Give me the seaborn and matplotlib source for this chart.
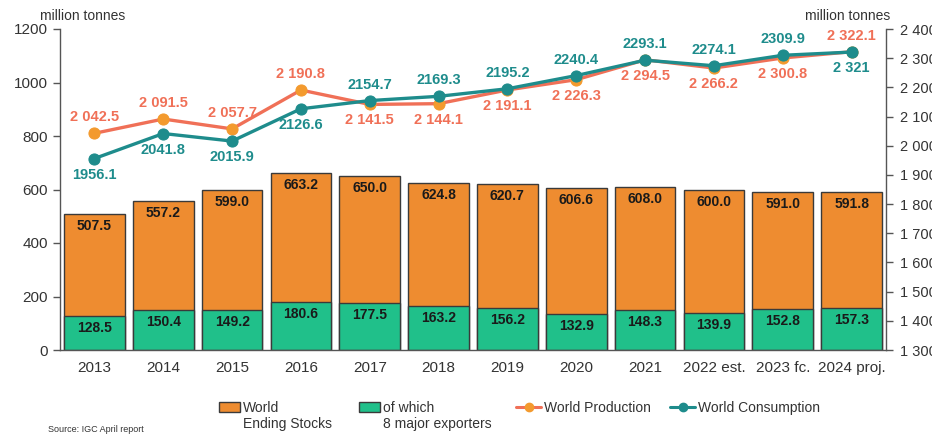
import matplotlib
matplotlib.use("Agg")
import matplotlib.pyplot as plt
import seaborn as sns
import numpy as np
import pandas as pd
from matplotlib.patches import Patch
from matplotlib.lines import Line2D
from matplotlib.ticker import FuncFormatter

years = ["2013", "2014", "2015", "2016", "2017", "2018", "2019", "2020", "2021",
         "2022 est.", "2023 fc.", "2024 proj."]
ending_stocks = [507.5, 557.2, 599.0, 663.2, 650.0, 624.8, 620.7, 606.6, 608.0, 600.0, 591.0, 591.8]
major_exporters = [128.5, 150.4, 149.2, 180.6, 177.5, 163.2, 156.2, 132.9, 148.3, 139.9, 152.8, 157.3]
production = [2042.5, 2091.5, 2057.7, 2190.8, 2141.5, 2144.1, 2191.1, 2226.3, 2294.5, 2266.2, 2300.8, 2322.1]
consumption = [1956.1, 2041.8, 2015.9, 2126.6, 2154.7, 2169.3, 2195.2, 2240.4, 2293.1, 2274.1, 2309.9, 2321.0]
prod_labels = ["2 042.5", "2 091.5", "2 057.7", "2 190.8", "2 141.5", "2 144.1", "2 191.1",
               "2 226.3", "2 294.5", "2 266.2", "2 300.8", "2 322.1"]
cons_labels = ["1956.1", "2041.8", "2015.9", "2126.6", "2154.7", "2169.3", "2195.2",
               "2240.4", "2293.1", "2274.1", "2309.9", "2 321"]
prod_above = [True, True, True, True, False, False, False, False, False, False, False, True]

sns.set_theme(style="white")
plt.rcParams['font.family'] = ['Liberation Sans', 'DejaVu Sans']

C_ORANGE = "#EE8C30"
C_GREEN = "#20C08A"
C_PROD = "#F07057"
C_PROD_M = "#F39A2E"
C_CONS = "#1E8C8C"
TXT = "#333333"

df = pd.DataFrame({"year": years, "stocks": ending_stocks, "exp": major_exporters})

fig = plt.figure(figsize=(9.32, 4.38), dpi=100)
ax = fig.add_axes([60/932, 1-350/438, 826/932, 321/438])

sns.barplot(data=df, x="year", y="stocks", color=C_ORANGE, width=0.88,
            edgecolor="#3a3a3a", linewidth=1.0, saturation=1, ax=ax)
sns.barplot(data=df, x="year", y="exp", color=C_GREEN, width=0.88,
            edgecolor="#3a3a3a", linewidth=1.0, saturation=1, ax=ax)

for i in range(len(years)):
    ax.text(i, ending_stocks[i] - 45, f"{ending_stocks[i]:.1f}", ha="center", va="center",
            fontsize=10, fontweight="bold", color="#1a1a1a")
    ax.text(i, major_exporters[i] - 45, f"{major_exporters[i]:.1f}", ha="center", va="center",
            fontsize=10, fontweight="bold", color="#1a1a1a")

ax.set_ylim(0, 1200)
ax.set_xlim(-0.5, len(years) - 0.5)
ax.set_yticks([0, 200, 400, 600, 800, 1000, 1200])
ax.set_xlabel("")
ax.set_ylabel("")
ax.set_xticks(np.arange(len(years)))
ax.set_xticklabels(years)
ax.tick_params(axis="x", length=0, labelsize=11, labelcolor=TXT, pad=8)
ax.set_xticks(np.arange(len(years) + 1) - 0.5, minor=True)
ax.tick_params(axis="x", which="minor", length=5, width=1, color="#555555", direction="out")
ax.tick_params(axis="y", length=5, width=1, color="#555555", direction="out", labelsize=11,
               labelcolor=TXT, left=True)
for s in ["top", "right"]:
    ax.spines[s].set_visible(False)
for s in ["left", "bottom"]:
    ax.spines[s].set_color("#555555")
    ax.spines[s].set_linewidth(1)

ax2 = ax.twinx()
ax2.set_ylim(1300, 2400)
x = np.arange(len(years))
sns.lineplot(x=x, y=production, color=C_PROD, linewidth=2.4, ax=ax2, marker="o",
             markersize=8, markerfacecolor=C_PROD_M, markeredgecolor=C_PROD_M, zorder=3)
sns.lineplot(x=x, y=consumption, color=C_CONS, linewidth=2.4, ax=ax2, marker="o",
             markersize=8, markerfacecolor=C_CONS, markeredgecolor=C_CONS, zorder=4)
off = 11.5
for i in range(len(years)):
    sp = off if prod_above[i] else -off
    ax2.annotate(prod_labels[i], (i, production[i]), xytext=(0, sp), textcoords="offset points",
                 ha="center", va="center", fontsize=10.5, fontweight="bold", color=C_PROD)
    ax2.annotate(cons_labels[i], (i, consumption[i]), xytext=(0, -sp), textcoords="offset points",
                 ha="center", va="center", fontsize=10.5, fontweight="bold", color=C_CONS)

ax2.set_yticks(np.arange(1300, 2401, 100))
ax2.yaxis.set_major_formatter(FuncFormatter(lambda v, p: f"{int(v):,}".replace(",", " ")))
ax2.tick_params(axis="y", length=5, width=1, color="#555555", direction="out", labelsize=10.5,
                labelcolor=TXT, right=True, pad=5)
ax2.set_ylabel("")
for s in ["top", "left", "bottom"]:
    ax2.spines[s].set_visible(False)
ax2.spines["right"].set_color("#555555")
ax2.spines["right"].set_linewidth(1)
ax2.set_xlim(-0.5, len(years) - 0.5)

fig.text(40/932, 1-16/438, "million tonnes", fontsize=10, color=TXT, ha="left", va="center")
fig.text(890/932, 1-16/438, "million tonnes", fontsize=10, color=TXT, ha="right", va="center")
fig.text(48/932, 1-430/438, "Source: IGC April report", fontsize=6.5, color=TXT, ha="left", va="center")

handles = [
    Patch(facecolor=C_ORANGE, edgecolor="#3a3a3a", linewidth=1),
    Patch(facecolor=C_GREEN, edgecolor="#3a3a3a", linewidth=1),
    Line2D([0], [0], color=C_PROD, lw=2.2, marker="o", markersize=6,
           markerfacecolor=C_PROD_M, markeredgecolor=C_PROD_M),
    Line2D([0], [0], color=C_CONS, lw=2.2, marker="o", markersize=6,
           markerfacecolor=C_CONS, markeredgecolor=C_CONS),
]
labels = ["World", "of which", "World Production", "World Consumption"]
second = ["Ending Stocks", "8 major exporters", "", ""]
xpos = [219, 359, 516, 670]
inv = fig.transFigure.inverted()
for h, lab, s2, xp in zip(handles, labels, second, xpos):
    is_patch = isinstance(h, Patch)
    leg = fig.legend([h], [lab], loc="center left", bbox_to_anchor=(xp/932, 1-408/438),
                     frameon=False, fontsize=10, handlelength=1.5 if is_patch else 1.8,
                     handleheight=0.8, handletextpad=0.2, borderaxespad=0, borderpad=0)
    for t in leg.get_texts():
        t.set_color(TXT)
    if s2:
        fig.canvas.draw()
        t = leg.get_texts()[0]
        bb = t.get_window_extent()
        x0, yc = inv.transform((bb.x0, (bb.y0 + bb.y1) / 2))
        fig.text(x0, yc - 16/438, s2, fontsize=10, color=TXT, ha="left", va="center")

fig.savefig("out.png", dpi=100)
